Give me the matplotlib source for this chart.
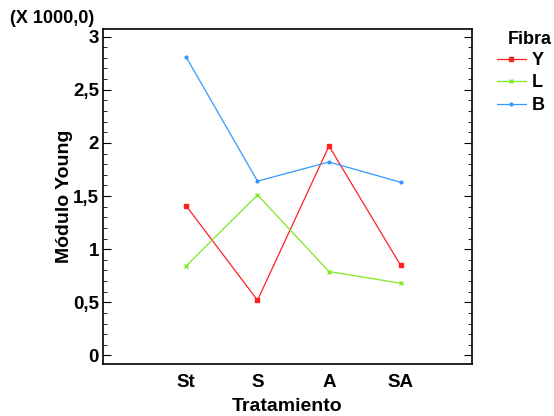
import matplotlib.pyplot as plt
from matplotlib.ticker import MultipleLocator, FuncFormatter

plt.rcParams["font.family"] = ["Liberation Sans", "DejaVu Sans"]
plt.rcParams["font.weight"] = "bold"

# Datos (en miles)
tratamientos = ["St", "S", "A", "SA"]
fibra_Y = [1.41, 0.52, 1.97, 0.85]
fibra_L = [0.84, 1.51, 0.79, 0.68]
fibra_B = [2.81, 1.64, 1.82, 1.63]

x = list(range(len(tratamientos)))

fig = plt.figure(figsize=(5.54, 4.16), dpi=100)
ax = fig.add_axes([0.186, 0.125, 0.666, 0.805])

ax.plot(x, fibra_Y, color="#ff2020", lw=0.9, marker="s", ms=2.5, label="Y")
ax.plot(x, fibra_L, color="#80e820", lw=0.9, marker="x", ms=3, mew=1, label="L")
ax.plot(x, fibra_B, color="#3399ff", lw=0.9, marker="o", ms=2, label="B")

ax.set_xlim(-1.16, 4.0)
ax.set_ylim(-0.08, 3.07)
ax.set_xticks(x)
ax.set_xticklabels(tratamientos, fontsize=13.5, fontweight="bold")
ax.tick_params(axis="x", length=0, pad=7)

ax.yaxis.set_major_locator(MultipleLocator(0.5))
ax.yaxis.set_minor_locator(MultipleLocator(0.1))
ax.yaxis.set_major_formatter(FuncFormatter(lambda v, p: f"{v:g}".replace(".", ",")))
ax.tick_params(axis="y", which="both", direction="in", right=True, labelsize=13.5, pad=3)
ax.tick_params(axis="y", which="major", length=6)
ax.tick_params(axis="y", which="minor", length=3)
for lab in ax.get_yticklabels():
    lab.set_fontweight("bold")

for s in ax.spines.values():
    s.set_linewidth(1.2)

ax.set_xlabel("Tratamiento", fontsize=14, fontweight="bold", labelpad=5)
ax.set_ylabel("Módulo Young", fontsize=14, fontweight="bold", labelpad=0)
fig.text(0.018, 0.955, "(X 1000,0)", fontsize=13, fontweight="bold", ha="left", va="center")

# legend title drawn separately so it sits offset from the entries
fig.text(508 / 554, 1 - 39 / 416, "Fibra", fontsize=13, fontweight="bold", ha="left", va="center")
leg = fig.legend(loc="upper left", bbox_to_anchor=(497 / 554, 1 - 52 / 416), frameon=False,
                 fontsize=13, handlelength=1.6, handletextpad=0.3,
                 labelspacing=0.3, borderaxespad=0, borderpad=0)
for t in leg.get_texts():
    t.set_fontweight("bold")

fig.savefig("out.png", dpi=100)
